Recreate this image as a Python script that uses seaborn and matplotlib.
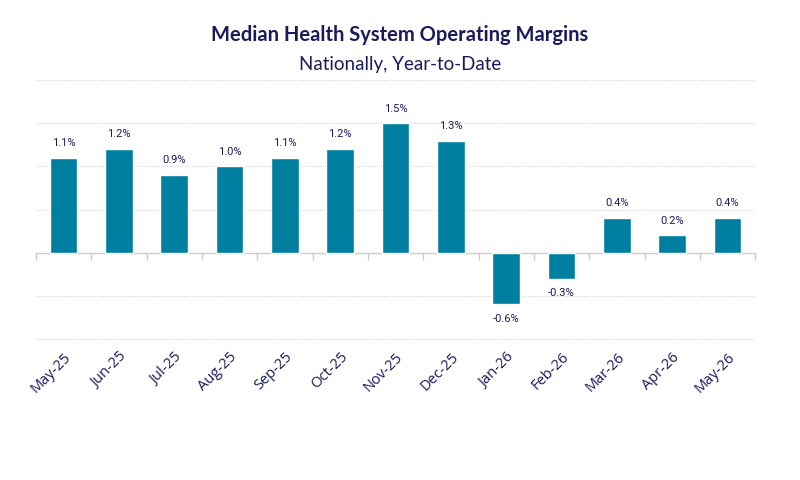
import seaborn as sns
import matplotlib.pyplot as plt
import numpy as np
import pandas as pd

# data
months = ["May-25", "Jun-25", "Jul-25", "Aug-25", "Sep-25", "Oct-25", "Nov-25",
          "Dec-25", "Jan-26", "Feb-26", "Mar-26", "Apr-26", "May-26"]
margins = [1.1, 1.2, 0.9, 1.0, 1.1, 1.2, 1.5, 1.3, -0.6, -0.3, 0.4, 0.2, 0.4]

df = pd.DataFrame({"month": months, "margin": margins})

navy = "#1b1a5c"
bar_color = "#007fa0"

sns.set_style("white")
plt.rcParams["font.family"] = ["Open Sans", "DejaVu Sans"]

fig = plt.figure(figsize=(8, 4.8), dpi=100)
ax = fig.add_axes([0.045, 0.292, 0.899, 0.541])

sns.barplot(data=df, x="month", y="margin", color=bar_color, width=0.5,
            saturation=1, ax=ax)

ax.set_ylim(-1.01, 2.0)
ax.set_yticks(np.arange(-1.0, 2.01, 0.5))
ax.set_yticklabels([])
ax.tick_params(axis="y", length=0)
ax.grid(axis="y", color="#cfcfcf", linestyle=(0, (1, 1.5)), linewidth=0.8)
ax.set_axisbelow(True)
for s in ax.spines.values():
    s.set_visible(False)
ax.set_xlim(-0.5, len(months) - 0.5)
ax.set_xlabel("")
ax.set_ylabel("")

# labels at the bottom, no ticks
ax.tick_params(axis="x", length=0, pad=7)
for lbl in ax.get_xticklabels():
    lbl.set_rotation(45)
    lbl.set_ha("right")
    lbl.set_rotation_mode("anchor")
    lbl.set_color(navy)
    lbl.set_fontsize(10.5)
    lbl.set_family(["Open Sans", "DejaVu Sans"])

# zero line with category separator ticks
zero = ax.secondary_xaxis(1.01 / 3.01)
zero.set_xticks(np.arange(-0.5, len(months), 1.0))
zero.set_xticklabels([])
zero.tick_params(axis="x", length=5, color="#cccccc", width=1)
zero.spines["bottom"].set_color("#cccccc")
zero.spines["bottom"].set_linewidth(1)

# value labels
for i, v in enumerate(margins):
    off = 7 if v >= 0 else -7
    ax.annotate(f"{v:.1f}%", (i, v), xytext=(0, off), textcoords="offset points",
                ha="center", va="bottom" if v >= 0 else "top",
                fontsize=8, color=navy, family=["Roboto", "DejaVu Sans"])

fig.text(0.5, 0.927, "Median Health System Operating Margins", ha="center",
         va="center", fontsize=14.5, fontweight="bold", color=navy,
         family=["Lato", "DejaVu Sans"])
fig.text(0.5, 0.866, "Nationally, Year-to-Date", ha="center", va="center",
         fontsize=13.5, color=navy, family=["Lato", "DejaVu Sans"])

fig.savefig("out.png", dpi=100)
